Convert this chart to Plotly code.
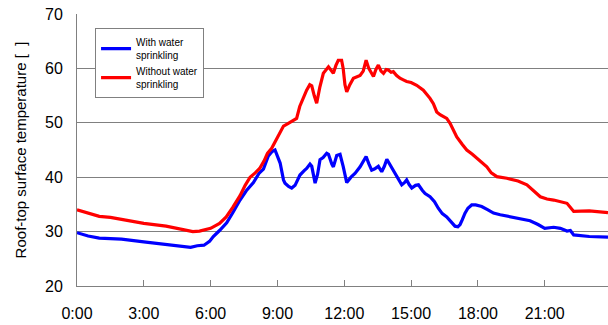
import plotly.graph_objects as go

# Time of day in hours and roof-top surface temperature
hours_without = [0.0, 0.4, 1.0, 1.5, 2.0, 3.0, 4.0, 4.8, 5.2, 5.5, 6.0, 6.4, 6.7, 7.0, 7.32, 7.55, 7.77,
                 8.0, 8.2, 8.4, 8.55, 8.74, 8.97, 9.15, 9.27, 9.45, 9.64, 9.86, 10.0, 10.15, 10.31, 10.45,
                 10.54, 10.65, 10.76, 10.9, 11.06, 11.29, 11.4, 11.51, 11.62, 11.73, 11.88, 11.95, 12.03,
                 12.11, 12.25, 12.41, 12.71, 12.85, 12.98, 13.1, 13.2, 13.31, 13.42, 13.53, 13.65, 13.76,
                 13.88, 13.98, 14.1, 14.2, 14.35, 14.5, 14.65, 14.8, 15.0, 15.25, 15.55, 15.85, 16.0,
                 16.15, 16.3, 16.45, 16.6, 16.75, 16.9, 17.05, 17.3, 17.5, 17.75, 17.95, 18.2, 18.4,
                 18.6, 18.85, 19.3, 19.8, 20.2, 20.5, 20.8, 21.1, 21.4, 22.0, 22.15, 22.3, 23.0, 23.84]
temp_without = [34.0, 33.5, 32.8, 32.6, 32.2, 31.5, 31.0, 30.3, 30.0, 30.1, 30.6, 31.5, 32.7, 34.5, 36.6,
                38.5, 40.0, 40.8, 41.6, 43.0, 44.4, 45.3, 47.1, 48.5, 49.4, 49.8, 50.2, 50.8, 53.0, 54.5,
                56.0, 57.0, 56.8, 55.0, 53.6, 56.5, 59.1, 60.3, 59.8, 59.1, 60.5, 61.5, 61.5, 60.0, 57.0,
                55.7, 57.0, 58.2, 58.7, 59.5, 61.5, 60.0, 59.3, 58.5, 59.8, 60.6, 59.5, 59.1, 59.8, 59.7,
                59.3, 59.4, 58.7, 58.2, 57.9, 57.6, 57.4, 56.9, 56.0, 54.5, 53.5, 52.0, 51.5, 51.1, 50.8,
                49.9, 48.5, 47.4, 46.0, 45.0, 44.2, 43.5, 42.7, 41.9, 40.8, 40.1, 39.8, 39.3, 38.6, 37.5,
                36.4, 36.0, 35.8, 35.2, 34.5, 33.7, 33.8, 33.5]

hours_with = [0.0, 0.5, 1.0, 2.0, 3.0, 4.0, 4.6, 5.1, 5.4, 5.7, 5.95, 6.12, 6.4, 6.72, 7.0, 7.32, 7.6,
              7.92, 8.17, 8.37, 8.59, 8.75, 8.89, 9.04, 9.12, 9.27, 9.34, 9.5, 9.64, 9.79, 10.01, 10.2,
              10.31, 10.46, 10.54, 10.69, 10.8, 10.91, 11.05, 11.21, 11.29, 11.44, 11.51, 11.66, 11.81,
              11.95, 12.11, 12.3, 12.48, 12.71, 12.85, 12.98, 13.1, 13.23, 13.35, 13.53, 13.68, 13.8,
              13.91, 14.02, 14.13, 14.28, 14.43, 14.58, 14.7, 14.8, 14.92, 15.03, 15.2, 15.33, 15.5,
              15.63, 15.85, 15.93, 16.05, 16.22, 16.4, 16.6, 16.8, 16.97, 17.1, 17.2, 17.3, 17.42, 17.55,
              17.72, 17.9, 18.17, 18.45, 18.7, 19.0, 19.44, 19.9, 20.34, 20.7, 21.0, 21.4, 21.7, 22.0,
              22.15, 22.3, 22.7, 23.0, 23.84]
temp_with = [29.8, 29.2, 28.8, 28.6, 28.1, 27.6, 27.4, 27.1, 27.4, 27.5, 28.2, 29.1, 30.2, 31.6, 33.5,
             35.8, 37.5, 39.0, 40.7, 41.5, 43.9, 44.7, 45.0, 43.5, 42.6, 39.5, 38.9, 38.3, 38.0, 38.5,
             40.4, 41.2, 41.6, 42.4, 42.0, 38.9, 40.5, 43.2, 43.6, 44.4, 44.2, 42.4, 41.9, 44.0, 44.2,
             42.0, 39.0, 40.0, 40.7, 41.9, 42.8, 43.8, 42.5, 41.3, 41.5, 42.0, 41.0, 42.0, 43.3, 42.5,
             41.9, 40.6, 39.5, 38.6, 39.0, 39.5, 38.6, 38.0, 38.5, 38.6, 37.6, 37.0, 36.4, 36.1, 35.5,
             34.3, 33.3, 32.7, 31.8, 31.0, 30.9, 31.3, 32.2, 33.4, 34.3, 34.9, 34.9, 34.6, 34.0, 33.4,
             33.1, 32.7, 32.4, 32.0, 31.3, 30.6, 30.8, 30.6, 30.1, 30.2, 29.4, 29.2, 29.1, 29.0]

x_tick_vals = [0, 3, 6, 9, 12, 15, 18, 21]
x_tick_text = ["0:00", "3:00", "6:00", "9:00", "12:00", "15:00", "18:00", "21:00"]
y_tick_vals = [20, 30, 40, 50, 60, 70]

FONT = "Liberation Sans, Arial, sans-serif"

fig = go.Figure()
fig.add_trace(go.Scatter(x=hours_with, y=temp_with, mode="lines",
                         name="With water<br>sprinkling",
                         line=dict(color="#0000FF", width=3.2)))
fig.add_trace(go.Scatter(x=hours_without, y=temp_without, mode="lines",
                         name="Without water<br>sprinkling",
                         line=dict(color="#FF0000", width=3.2)))

fig.update_layout(
    width=608, height=325,
    margin=dict(l=77, r=0, t=14, b=39),
    paper_bgcolor="white", plot_bgcolor="white",
    font=dict(family=FONT, color="#000000"),
    showlegend=True,
    legend=dict(x=0.034, y=0.948, xanchor="left", yanchor="top",
                bgcolor="white", bordercolor="#808080", borderwidth=1,
                font=dict(size=10, family=FONT), tracegroupgap=0,
                itemwidth=30),
)
fig.update_xaxes(
    range=[0, 23.84], tickvals=x_tick_vals, ticktext=x_tick_text,
    showgrid=False, zeroline=False,
    showline=True, linecolor="#808080", linewidth=1,
    ticks="inside", ticklen=6, tickcolor="#808080",
    tickfont=dict(size=16, family=FONT), ticklabelstandoff=13,
)
fig.update_yaxes(
    range=[20, 70], tickvals=y_tick_vals,
    showgrid=True, gridcolor="#808080", gridwidth=1, zeroline=False,
    showline=True, linecolor="#808080", linewidth=1,
    ticks="", tickfont=dict(size=16, family=FONT), ticklabelstandoff=10,
    title=dict(text="Roof-top surface temperature [  ]", font=dict(size=15, family=FONT), standoff=14),
)

fig.write_html("out.html")
